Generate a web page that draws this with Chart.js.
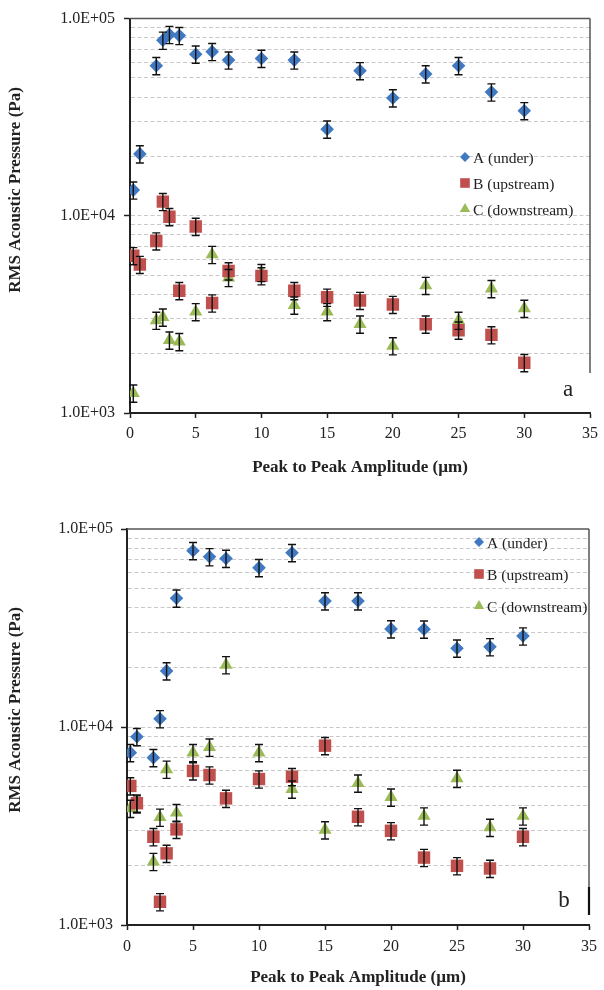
<!DOCTYPE html>
<html>
<head>
<meta charset="utf-8">
<script src="https://cdn.jsdelivr.net/npm/chart.js@4.4.0/dist/chart.umd.min.js"></script>
<style>
  body { margin: 0; background: #fff; }
  .panel { position: absolute; left: 0; width: 604px; height: 495px; }
</style>
</head>
<body>
<div class="panel" style="top:0"><canvas id="chartA" width="604" height="495"></canvas></div>
<div class="panel" style="top:495px"><canvas id="chartB" width="604" height="495"></canvas></div>
<script>
// ---- data ----
const xTicks = [0, 5, 10, 15, 20, 25, 30, 35];
const yMajorTicks = [1000, 10000, 100000];
const yTickLabels = ["1.0E+03", "1.0E+04", "1.0E+05"];
const seriesLabels = ["A (under)", "B (upstream)", "C (downstream)"];
const errorFraction = 0.1; // error bars look like +/-10%

// panel a
const xA1 = [0.25, 0.75, 2, 2.5, 3, 3.75, 5, 6.25, 7.5, 10, 12.5, 15, 17.5, 20, 22.5, 25, 27.5, 30];
const yA1 = [13500, 20600, 57700, 77600, 83000, 82000, 66000, 68000, 61600, 62800, 61600, 27500, 54400, 39600, 52400, 57700, 42400, 34100];
const xB1 = [0.25, 0.75, 2, 2.5, 3, 3.75, 5, 6.25, 7.5, 10, 12.5, 15, 17.5, 20, 22.5, 25, 27.5, 30];
const yB1 = [6270, 5660, 7450, 11800, 9900, 4170, 8830, 3610, 5250, 4960, 4170, 3860, 3720, 3550, 2820, 2630, 2490, 1800];
const xC1 = [0.25, 2, 2.5, 3, 3.75, 5, 6.25, 7.5, 10, 12.5, 15, 17.5, 20, 22.5, 25, 27.5, 30];
const yC1 = [1260, 2950, 3060, 2340, 2300, 3260, 6360, 4860, 5150, 3520, 3260, 2820, 2190, 4430, 2950, 4270, 3390];

// panel b
const xA2 = [0.25, 0.75, 2, 2.5, 3, 3.75, 5, 6.25, 7.5, 10, 12.5, 15, 17.5, 20, 22.5, 25, 27.5, 30];
const yA2 = [7420, 8930, 7000, 11000, 19200, 44700, 77700, 72400, 71000, 63800, 75900, 43300, 43300, 31300, 31200, 25000, 25400, 28800];
const xB2 = [0.25, 0.75, 2, 2.5, 3, 3.75, 5, 6.25, 7.5, 10, 12.5, 15, 17.5, 20, 22.5, 25, 27.5, 30];
const yB2 = [5040, 4120, 2790, 1310, 2300, 3040, 6000, 5720, 4360, 5460, 5610, 8050, 3520, 2990, 2190, 1990, 1930, 2790];
const xC2 = [0.25, 0.75, 2, 2.5, 3, 3.75, 5, 6.25, 7.5, 10, 12.5, 15, 17.5, 20, 22.5, 25, 27.5, 30];
const yC2 = [3880, 4080, 2090, 3500, 6110, 3690, 7420, 7900, 20600, 7420, 4850, 3020, 5200, 4420, 3550, 5500, 3110, 3550];

const xTitle = "Peak to Peak Amplitude (\u00b5m)";
const yTitle = "RMS Acoustic Pressure (Pa)";

Chart.defaults.font.family = '"Liberation Serif", "Times New Roman", serif';
Chart.defaults.color = "#222";

const seriesStyles = [
  { pointStyle: "rectRot", radius: 6.8, legendR: 5, colour: "#4079c1" },
  { pointStyle: "rect", radius: 8.8, legendR: 6.8, colour: "#c0504d" },
  { pointStyle: "triangle", radius: 7.6, legendR: 6, colour: "#9bbb59" },
];

function toPoints(xs, ys) {
  return xs.map((x, i) => ({ x: x, y: ys[i] }));
}

// gridline positions 1..9 x 10^n between the axis ends
function logGridValues() {
  const vals = [];
  for (let d = 1000; d < 100000; d *= 10) {
    for (let m = 1; m < 10; m++) vals.push(m * d);
  }
  vals.push(100000);
  return vals;
}

function drawMarker(ctx, style, x, y, r, colour) {
  ctx.fillStyle = colour;
  ctx.beginPath();
  if (style === "rectRot") {
    ctx.moveTo(x, y - r);
    ctx.lineTo(x + r, y);
    ctx.lineTo(x, y + r);
    ctx.lineTo(x - r, y);
  } else if (style === "rect") {
    const h = r * Math.SQRT1_2;
    ctx.rect(x - h, y - h, 2 * h, 2 * h);
  } else {
    ctx.moveTo(x, y - r);
    ctx.lineTo(x + r * 0.866, y + r * 0.5);
    ctx.lineTo(x - r * 0.866, y + r * 0.5);
  }
  ctx.closePath();
  ctx.fill();
}

const errorBarPlugin = {
  id: "errorBars",
  afterDatasetsDraw(chart) {
    const ctx = chart.ctx;
    const yScale = chart.scales.y;
    ctx.save();
    ctx.strokeStyle = "#111";
    ctx.lineWidth = 1.4;
    chart.data.datasets.forEach((ds, i) => {
      const meta = chart.getDatasetMeta(i);
      meta.data.forEach((el, j) => {
        const v = ds.data[j].y;
        const top = yScale.getPixelForValue(v * (1 + errorFraction));
        const bottom = yScale.getPixelForValue(v * (1 - errorFraction));
        const x = el.x;
        ctx.beginPath();
        ctx.moveTo(x, top);
        ctx.lineTo(x, bottom);
        ctx.moveTo(x - 4, top);
        ctx.lineTo(x + 4, top);
        ctx.moveTo(x - 4, bottom);
        ctx.lineTo(x + 4, bottom);
        ctx.stroke();
      });
    });
    ctx.restore();
  },
};

const decorPlugin = {
  id: "panelDecor",
  afterDraw(chart, args, opts) {
    const ctx = chart.ctx;
    const area = chart.chartArea;
    ctx.save();
    // top and right frame lines
    ctx.strokeStyle = "#555";
    ctx.lineWidth = 1.5;
    ctx.beginPath();
    ctx.moveTo(area.left, area.top);
    ctx.lineTo(area.right, area.top);
    ctx.moveTo(area.right, area.top);
    ctx.lineTo(area.right, opts.rightEnd);
    ctx.stroke();
    if (opts.rightMark) {
      ctx.strokeStyle = "#111";
      ctx.lineWidth = 2.2;
      ctx.beginPath();
      ctx.moveTo(area.right, opts.rightMark[0]);
      ctx.lineTo(area.right, opts.rightMark[1]);
      ctx.stroke();
    }

    // y axis title
    ctx.fillStyle = "#222";
    ctx.font = 'bold 17px "Liberation Serif", "Times New Roman", serif';
    ctx.textAlign = "center";
    ctx.textBaseline = "middle";
    ctx.save();
    ctx.translate(opts.yTitleX, opts.yTitleY);
    ctx.rotate(-Math.PI / 2);
    ctx.fillText(yTitle, 0, 0);
    ctx.restore();

    // legend inside the plot
    ctx.font = '15.5px "Liberation Serif", "Times New Roman", serif';
    ctx.textAlign = "left";
    chart.data.datasets.forEach((ds, i) => {
      const y = opts.legendY + i * opts.legendGap;
      const st = seriesStyles[i];
      drawMarker(ctx, st.pointStyle, opts.legendX, y, st.legendR, st.colour);
      ctx.fillStyle = "#222";
      ctx.fillText(ds.label, opts.legendX + 8, y + 2);
    });

    // panel letter
    ctx.font = '23px "Liberation Serif", "Times New Roman", serif';
    ctx.textAlign = "center";
    ctx.fillText(opts.letter, opts.letterX, opts.letterY);
    ctx.restore();
  },
};

function makePlot(canvasName, seriesData, box) {
  const datasets = seriesData.map((pts, i) => {
    const st = seriesStyles[i];
    return {
      label: seriesLabels[i],
      data: pts,
      pointStyle: st.pointStyle,
      pointRadius: st.radius,
      backgroundColor: st.colour,
      borderColor: st.colour,
      borderWidth: 0,
      showLine: false,
    };
  });
  const config = {
    type: "scatter",
    data: { datasets: datasets },
    plugins: [errorBarPlugin, decorPlugin],
    options: {
      responsive: false,
      animation: false,
      events: [],
      layout: { padding: { left: 0, top: box.top, right: 604 - box.right, bottom: 0 } },
      plugins: {
        legend: { display: false },
        tooltip: { enabled: false },
        panelDecor: box,
      },
      scales: {
        x: {
          type: "linear",
          min: 0,
          max: 35,
          afterFit: (s) => {
            s.height = 495 - box.bottom;
          },
          afterBuildTicks: (s) => {
            s.ticks = xTicks.map((v) => ({ value: v }));
          },
          ticks: {
            padding: box.xTickPad,
            font: { size: 16 },
            color: "#222",
            maxRotation: 0,
            autoSkip: false,
          },
          grid: {
            drawOnChartArea: false,
            tickLength: 5,
            tickWidth: 1.5,
            color: "#222",
          },
          border: { color: "#222", width: 2 },
          title: {
            display: true,
            text: xTitle,
            color: "#222",
            font: { size: 17, weight: "bold" },
            padding: { top: 0, bottom: box.xTitlePad },
          },
        },
        y: {
          type: "logarithmic",
          min: 1000,
          max: 100000,
          afterFit: (s) => {
            s.width = box.left;
          },
          afterBuildTicks: (s) => {
            s.ticks = logGridValues().map((v) => ({ value: v }));
          },
          ticks: {
            autoSkip: false,
            padding: box.yTickPad,
            font: { size: 16 },
            color: "#222",
            callback: (v) => {
              const k = yMajorTicks.indexOf(v);
              return k >= 0 ? yTickLabels[k] : "";
            },
          },
          grid: {
            lineWidth: 1,
            tickLength: 6,
            tickWidth: 1.5,
            color: (c) => (c.tick.value === 1000 || c.tick.value === 100000 ? "transparent" : "#c8c8c8"),
            tickColor: (c) => (yMajorTicks.indexOf(c.tick.value) >= 0 ? "#222" : "transparent"),
          },
          border: { color: "#222", width: 2, dash: [4, 2.5] },
        },
      },
    },
  };
  const ctx = document.getElementById(canvasName);
  return new Chart(ctx, config);
}

makePlot("chartA", [toPoints(xA1, yA1), toPoints(xB1, yB1), toPoints(xC1, yC1)], {
  left: 130, top: 14, right: 596, bottom: 413,
  xTickPad: 6, xTitlePad: 17, yTickPad: 9,
  yTitleX: 16, yTitleY: 190,
  legendX: 465, legendY: 157, legendGap: 26,
  letter: "a", letterX: 568, letterY: 390,
  rightEnd: 373,
});

makePlot("chartB", [toPoints(xA2, yA2), toPoints(xB2, yB2), toPoints(xC2, yC2)], {
  left: 127, top: 34, right: 590, bottom: 430,
  xTickPad: 7, xTitlePad: 2, yTickPad: 8,
  yTitleX: 16, yTitleY: 215,
  legendX: 479, legendY: 47, legendGap: 32,
  letter: "b", letterX: 564, letterY: 406,
  rightEnd: 392, rightMark: [392, 420],
});
</script>
</body>
</html>
